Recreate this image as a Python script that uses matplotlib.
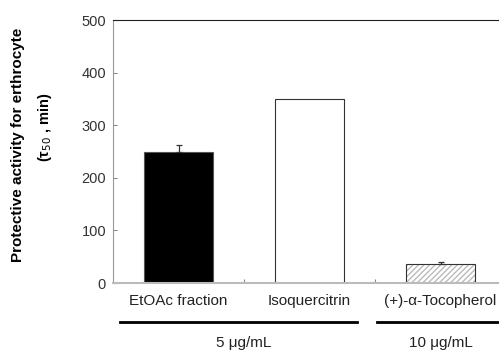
#!/usr/bin/env python3
import matplotlib.pyplot as plt
import numpy as np

plt.rcParams['font.family'] = ['Liberation Sans', 'DejaVu Sans']

samples = ['EtOAc fraction', 'Isoquercitrin', '(+)-\u03b1-Tocopherol']
tau50 = [250, 350, 36]
tau50_err = [12, 0, 4]
groups = ['5 \u03bcg/mL', '10 \u03bcg/mL']

fig = plt.figure(figsize=(4.99, 3.5), dpi=100, facecolor='white')
ax = fig.add_axes([0.2265, 0.1914, 0.7876, 0.7514])

x = np.arange(len(samples))
w = 0.53
ax.bar(x[0], tau50[0], w, color='black', edgecolor='#555555', lw=0.8)
ax.bar(x[1], tau50[1], w, color='white', edgecolor='#333333', lw=0.8)
ax.bar(x[2], tau50[2], w, color='white', edgecolor='#bbbbbb', hatch='//////', lw=0)
ax.bar(x[2], tau50[2], w, color='none', edgecolor='#333333', lw=0.8)
has_err = np.array(tau50_err) > 0
ax.errorbar(x[has_err], np.array(tau50)[has_err],
            yerr=[np.zeros(has_err.sum()), np.array(tau50_err)[has_err]], fmt='none',
            ecolor='#333333', elinewidth=0.9, capsize=2.5, capthick=0.9)

ax.set_xlim(-0.5, 2.5)
ax.set_ylim(0, 500)
ax.set_yticks(range(0, 501, 100))
ax.set_xticks(x[:-1] + 0.5, minor=False)
ax.set_xticklabels([])
for i, s in enumerate(samples):
    ax.text(i, -0.07, s, transform=ax.get_xaxis_transform(), ha='center', va='center',
            fontsize=11, color='#222222')

ax.tick_params(axis='y', direction='in', length=3, color='#888888', labelsize=10.5,
               labelcolor='#333333', pad=5)
ax.tick_params(axis='x', direction='in', length=3, color='#888888')
ax.spines['left'].set_color('#999999')
ax.spines['bottom'].set_color('#bbbbbb')
ax.spines['bottom'].set_linewidth(1.5)
ax.spines['top'].set_color('#222222')
ax.spines['right'].set_visible(False)

# group brackets under the category names
tr = ax.get_xaxis_transform()
ax.plot([-0.447, 1.363], [-0.148, -0.148], color='black', lw=2, transform=tr, clip_on=False)
ax.plot([1.515, 2.6], [-0.148, -0.148], color='black', lw=2, transform=tr, clip_on=False)
ax.text(0.5, -0.228, groups[0], transform=tr, ha='center', va='center', fontsize=11,
        color='#222222')
ax.text(2.0, -0.228, groups[1], transform=tr, ha='center', va='center', fontsize=11,
        color='#222222')

fig.text(0.036, 0.585, 'Protective activity for erthrocyte', rotation=90, ha='center',
         va='center', fontsize=11, fontweight='bold')
fig.text(0.09, 0.637, '(\u03c4$_{50}$ , min)', rotation=90, ha='center', va='center',
         fontsize=10.5, fontweight='bold')

fig.savefig('out.png', dpi=100)
